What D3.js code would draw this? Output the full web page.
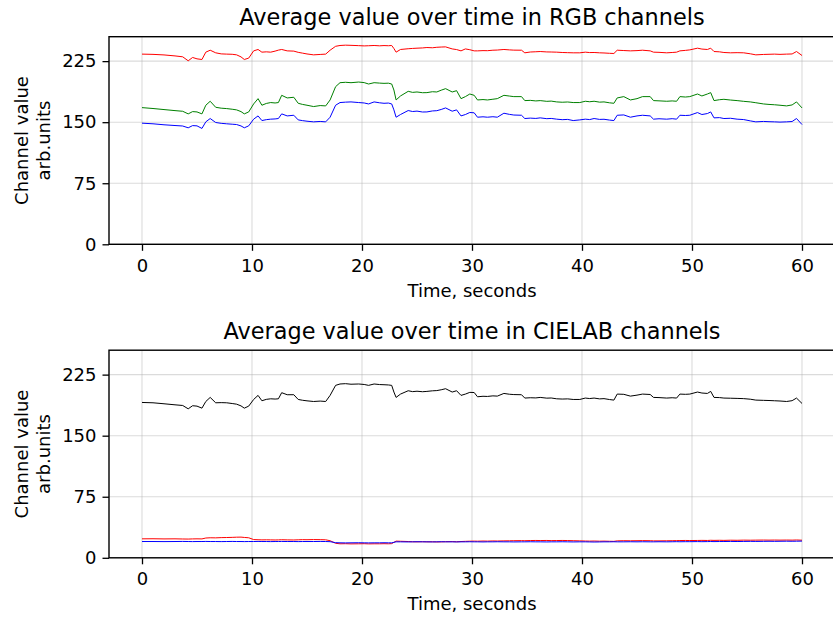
<!DOCTYPE html>
<html>
<head>
<meta charset="utf-8">
<script src="https://cdn.jsdelivr.net/npm/d3@7"></script>
<style>
  html, body { margin: 0; padding: 0; background: #fff; }
  svg { display: block; font-family: "DejaVu Sans", sans-serif; }
</style>
</head>
<body>
<svg id="chart" width="833" height="617"></svg>
<script>
// ---------------- data ----------------
const time = [0, 1, 2, 3, 3.7, 4.2, 4.6, 5.0, 5.45, 5.8, 6.2, 6.7, 7.2, 7.7, 8.2, 8.6, 9.0, 9.3, 9.7, 10.15,
  10.55, 10.9, 11.3, 11.7, 12.1, 12.4, 12.7, 13.2, 13.8, 14.2, 14.6, 15.0, 15.6, 16.2, 16.7, 17.1, 17.6, 18.0, 18.5, 19.0,
  19.7, 20.2, 20.6, 21.1, 21.6, 22.0, 22.4, 22.7, 22.9, 23.1, 23.5, 24.2, 24.6, 25.0, 25.5, 25.9, 26.4, 26.8, 27.2, 27.6,
  28.2, 28.6, 29.0, 29.4, 29.8, 30.2, 30.5, 31.0, 31.4, 31.9, 32.3, 32.9, 33.4, 33.8, 34.5, 34.8, 35.3, 35.8, 36.2, 36.8,
  37.2, 37.7, 38.2, 38.7, 39.2, 39.8, 40.3, 40.7, 41.1, 41.6, 42.0, 42.5, 42.9, 43.2, 43.8, 44.4, 45.0, 45.5, 46.2, 46.5,
  47.0, 47.7, 48.2, 48.6, 48.9, 49.4, 49.8, 50.5, 50.9, 51.4, 51.7, 52.0, 52.5, 52.9, 53.5, 54.1, 54.7, 55.3, 55.8, 56.5,
  57.0, 57.5, 58.0, 58.6, 59.1, 59.5, 60.0];

const rgbR = [233.6, 233.3, 232.6, 231.4, 230.3, 225.4, 229.5, 227.8, 227.0, 236.0, 238.4, 235.2, 233.9, 233.6, 233.4, 232.7, 230.2, 227.0, 228.7, 237.6,
  239.3, 236.0, 236.4, 236.0, 237.3, 238.5, 239.3, 237.6, 237.3, 235.8, 234.8, 233.8, 232.7, 233.2, 233.6, 238.4, 243.2, 244.2, 244.6, 244.4,
  244.0, 243.7, 243.9, 244.2, 243.8, 244.1, 243.9, 244.2, 240.5, 236.0, 239.3, 240.2, 240.6, 240.9, 241.2, 241.7, 241.4, 242.0, 242.3, 242.5,
  240.0, 239.2, 237.6, 240.0, 239.0, 237.6, 237.6, 237.9, 237.8, 238.4, 238.6, 239.3, 238.8, 238.5, 238.4, 235.2, 236.2, 236.5, 236.8, 236.3,
  236.2, 236.0, 235.6, 235.4, 235.2, 235.2, 236.0, 235.5, 235.6, 235.2, 235.0, 234.6, 234.4, 238.4, 238.0, 237.6, 237.9, 238.4, 237.6, 236.0,
  235.8, 235.2, 235.6, 236.0, 237.6, 238.2, 238.8, 240.9, 239.8, 239.3, 240.9, 236.8, 236.4, 235.6, 235.2, 235.4, 235.2, 234.0, 232.7, 233.2,
  233.4, 233.6, 233.3, 233.6, 233.8, 236.8, 231.9];

const rgbG = [167.9, 166.8, 165.5, 164.2, 163.4, 160.2, 163.0, 162.6, 160.2, 170.8, 175.7, 168.3, 167.2, 166.7, 165.9, 165.1, 163.0, 160.2, 162.6, 172.4,
  178.9, 170.8, 173.0, 174.1, 173.6, 174.1, 183.0, 179.8, 180.6, 173.2, 171.8, 170.8, 169.2, 170.4, 170.0, 177.3, 193.6, 198.5, 199.0, 198.5,
  199.3, 198.6, 196.9, 198.5, 198.0, 197.7, 197.9, 196.9, 189.5, 177.3, 182.2, 187.9, 186.6, 187.1, 186.2, 186.3, 187.4, 187.1, 189.3, 191.2,
  187.1, 188.7, 178.9, 181.4, 184.6, 183.0, 177.3, 177.8, 177.3, 178.2, 178.9, 183.0, 182.1, 181.4, 181.4, 176.5, 176.8, 176.1, 176.5, 175.6,
  175.9, 174.9, 174.5, 174.8, 174.1, 174.1, 175.7, 175.1, 175.7, 174.6, 174.9, 173.8, 173.2, 179.8, 181.4, 177.3, 178.9, 181.4, 181.4, 176.5,
  176.2, 175.7, 176.1, 175.7, 181.4, 180.9, 181.4, 184.6, 182.2, 184.6, 186.3, 176.5, 177.6, 178.1, 177.2, 176.5, 175.6, 174.9, 173.9, 172.4,
  171.8, 171.4, 170.8, 170.0, 171.2, 174.9, 167.5];

const rgbB = [148.8, 148.0, 146.8, 145.9, 145.3, 143.1, 145.8, 145.5, 142.3, 150.4, 154.5, 149.6, 148.6, 148.0, 147.5, 147.1, 145.4, 143.1, 145.5, 153.7,
  157.7, 152.0, 153.1, 153.7, 154.0, 154.5, 160.2, 157.7, 158.5, 152.8, 151.9, 151.2, 150.4, 150.9, 150.4, 156.1, 170.8, 174.1, 174.6, 174.9,
  174.1, 173.6, 172.4, 174.9, 173.8, 173.2, 173.5, 172.4, 165.1, 156.1, 159.4, 164.3, 163.1, 163.6, 162.5, 162.6, 163.8, 164.1, 165.6, 167.5,
  163.5, 165.1, 157.7, 159.4, 161.9, 161.5, 156.1, 156.6, 156.1, 156.7, 156.1, 161.0, 159.6, 158.8, 158.5, 154.5, 155.0, 154.6, 155.3, 154.3,
  154.6, 153.7, 153.1, 153.4, 152.0, 152.8, 153.7, 153.2, 154.5, 153.4, 153.6, 152.6, 152.0, 158.5, 158.9, 156.1, 157.7, 158.5, 157.7, 153.7,
  154.2, 153.7, 154.3, 153.7, 158.5, 158.2, 158.5, 161.8, 159.4, 160.6, 162.6, 155.3, 155.6, 154.5, 154.8, 153.7, 153.2, 151.6, 150.4, 150.9,
  150.6, 150.4, 150.1, 150.4, 150.8, 154.5, 147.1];

const labL = [190.8, 190.4, 189.2, 187.9, 187.1, 183.0, 186.8, 186.3, 183.8, 192.0, 197.0, 190.4, 190.6, 190.4, 189.5, 188.7, 186.6, 183.8, 186.3, 194.5,
  199.5, 192.9, 194.6, 195.3, 195.0, 195.3, 202.8, 200.3, 200.3, 194.5, 193.5, 192.8, 192.0, 192.5, 192.0, 199.5, 211.8, 213.5, 213.9, 213.2,
  213.5, 212.9, 211.8, 213.5, 212.8, 212.6, 212.3, 211.8, 203.6, 197.0, 201.1, 205.2, 204.1, 204.6, 204.0, 204.4, 205.1, 205.4, 206.4, 207.7,
  203.6, 205.2, 199.5, 201.1, 203.2, 203.0, 197.8, 198.4, 198.2, 198.9, 198.6, 201.9, 200.9, 200.5, 200.3, 196.2, 196.6, 196.4, 197.0, 196.1,
  196.3, 195.3, 195.0, 195.2, 194.5, 194.5, 196.2, 195.6, 196.2, 195.2, 195.5, 194.4, 193.7, 201.1, 200.8, 198.6, 199.8, 201.1, 200.6, 197.0,
  196.8, 196.2, 196.6, 196.2, 201.1, 200.8, 201.1, 203.6, 202.4, 201.9, 204.4, 197.0, 196.8, 196.2, 196.0, 195.8, 195.5, 194.8, 193.7, 193.4,
  193.2, 192.9, 192.6, 192.0, 193.0, 196.2, 189.6];

const labA = [23.3, 23.4, 23.2, 23.3, 23.1, 23.0, 23.2, 23.3, 23.2, 24.3, 24.6, 24.5, 24.8, 24.9, 25.1, 25.3, 25.4, 25.0, 24.6, 22.4,
  22.2, 22.0, 22.1, 22.0, 21.9, 22.0, 22.2, 22.0, 21.9, 22.1, 22.3, 22.2, 22.4, 22.3, 22.1, 21.0, 17.8, 17.2, 17.3, 17.1,
  17.2, 17.3, 17.1, 17.2, 17.2, 17.3, 17.2, 17.4, 19.0, 20.5, 20.3, 20.0, 19.7, 19.6, 19.8, 19.6, 19.7, 19.5, 19.6, 19.8,
  19.9, 19.7, 20.0, 20.2, 20.4, 20.5, 20.4, 20.6, 20.5, 20.7, 20.6, 20.8, 20.9, 21.0, 21.1, 21.0, 21.2, 21.3, 21.2, 21.3,
  21.1, 21.2, 21.3, 21.2, 21.0, 20.8, 20.6, 20.5, 20.6, 20.4, 20.5, 20.3, 20.2, 20.8, 21.0, 20.9, 21.0, 21.1, 21.0, 20.8,
  20.8, 20.9, 21.0, 21.1, 21.2, 21.3, 21.2, 21.3, 21.4, 21.3, 21.5, 21.4, 21.5, 21.4, 21.6, 21.5, 21.7, 21.6, 21.7, 21.8,
  21.7, 21.8, 21.7, 21.8, 21.7, 21.9, 21.6];

const labB = [20.0, 20.0, 19.9, 20.0, 20.1, 20.0, 19.9, 20.0, 20.0, 20.1, 20.0, 20.0, 19.9, 20.0, 20.1, 20.0, 20.0, 19.9, 20.0, 20.0,
  20.1, 20.0, 20.0, 19.9, 20.0, 20.0, 20.1, 20.0, 20.0, 19.9, 20.0, 20.0, 20.0, 20.1, 20.0, 19.8, 18.6, 18.4, 18.3, 18.4,
  18.5, 18.4, 18.3, 18.4, 18.4, 18.5, 18.4, 18.4, 19.0, 19.6, 19.6, 19.5, 19.6, 19.7, 19.6, 19.6, 19.5, 19.6, 19.7, 19.6,
  19.6, 19.5, 19.6, 19.6, 19.7, 19.6, 19.6, 19.5, 19.6, 19.6, 19.7, 19.6, 19.6, 19.5, 19.6, 19.6, 19.7, 19.6, 19.6, 19.5,
  19.6, 19.6, 19.7, 19.6, 19.5, 19.6, 19.6, 19.5, 19.4, 19.5, 19.6, 19.6, 19.7, 19.6, 19.6, 19.7, 19.6, 19.7, 19.6, 19.6,
  19.7, 19.6, 19.7, 19.8, 19.7, 19.8, 19.8, 19.9, 19.8, 19.9, 20.0, 19.9, 20.0, 20.0, 20.1, 20.0, 20.1, 20.2, 20.1, 20.2,
  20.3, 20.2, 20.3, 20.4, 20.3, 20.4, 20.5];

const xTicks = [0, 10, 20, 30, 40, 50, 60];
const yTicks = [0, 75, 150, 225];

const panels = [
  { title: "Average value over time in RGB channels",
    series: [ { values: rgbR, color: "#ff0000" }, { values: rgbG, color: "#008000" }, { values: rgbB, color: "#0000ff" } ] },
  { title: "Average value over time in CIELAB channels",
    series: [ { values: labL, color: "#000000" }, { values: labA, color: "#ff0000" }, { values: labB, color: "#0000ff" } ] }
];

// ---------------- layout ----------------
const svg = d3.select("#chart");
const left = 109, right = 835;
const panelBoxes = [ { top: 36.7, bottom: 244.3 }, { top: 350.2, bottom: 557.8 } ];
const tickFont = 18, titleFont = 22.4;

const x = d3.scaleLinear().domain([-3, 63]).range([left, right]);

panels.forEach((p, i) => {
  const box = panelBoxes[i];
  const y = d3.scaleLinear().domain([0, 255]).range([box.bottom, box.top]);
  const g = svg.append("g");

  // grid
  g.append("g").selectAll("line").data(xTicks).join("line")
    .attr("x1", d => x(d)).attr("x2", d => x(d))
    .attr("y1", box.top).attr("y2", box.bottom)
    .attr("stroke", "#b0b0b0").attr("stroke-opacity", 0.45).attr("stroke-width", 1.1);
  g.append("g").selectAll("line").data(yTicks).join("line")
    .attr("x1", left).attr("x2", right)
    .attr("y1", d => y(d)).attr("y2", d => y(d))
    .attr("stroke", "#b0b0b0").attr("stroke-opacity", 0.45).attr("stroke-width", 1.1);

  // lines
  const line = d3.line().x((d, k) => x(time[k])).y(d => y(d));
  p.series.forEach(s => {
    g.append("path").datum(s.values)
      .attr("fill", "none").attr("stroke", s.color)
      .attr("stroke-width", 1.0).attr("stroke-linejoin", "round")
      .attr("d", line);
  });

  // axes
  const xAxis = d3.axisBottom(x).tickValues(xTicks).tickSize(6.5).tickPadding(4);
  const gx = g.append("g").attr("transform", `translate(0,${box.bottom})`).call(xAxis);
  const yAxis = d3.axisLeft(y).tickValues(yTicks).tickSize(6.5).tickPadding(6);
  const gy = g.append("g").attr("transform", `translate(${left},0)`).call(yAxis);
  [gx, gy].forEach(a => {
    a.select(".domain").remove();
    a.selectAll(".tick line").attr("stroke", "#000").attr("stroke-width", 1.3);
    a.selectAll(".tick text").attr("fill", "#000")
      .style("font-family", "'DejaVu Sans', sans-serif").style("font-size", tickFont + "px");
  });
  gx.selectAll(".tick text").attr("dy", "0.95em");

  // spines
  g.append("rect").attr("x", left).attr("y", box.top)
    .attr("width", right - left).attr("height", box.bottom - box.top)
    .attr("fill", "none").attr("stroke", "#000").attr("stroke-width", 1.4);

  // title
  g.append("text").attr("x", (left + right) / 2).attr("y", box.top - 11.7)
    .attr("text-anchor", "middle").style("font-size", titleFont + "px").text(p.title);

  // x label
  g.append("text").attr("x", (left + right) / 2).attr("y", box.bottom + 52.4)
    .attr("text-anchor", "middle").style("font-size", tickFont + "px").text("Time, seconds");

  // y label (two lines)
  const cy = (box.top + box.bottom) / 2;
  [["Channel value", 28], ["arb.units", 50]].forEach(([t, bx]) => {
    g.append("text").attr("transform", `translate(${bx},${cy}) rotate(-90)`)
      .attr("text-anchor", "middle").style("font-size", tickFont + "px").text(t);
  });
});
</script>
</body>
</html>
